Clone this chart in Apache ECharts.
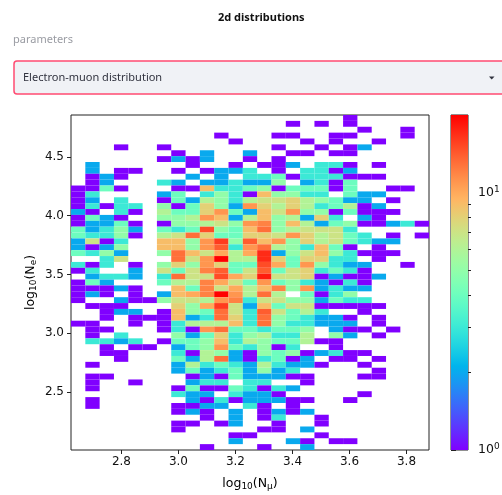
<!DOCTYPE html>
<html><head><meta charset="utf-8">
<style>html,body{margin:0;padding:0;background:#fff;overflow:hidden}#c{width:502px;height:495px}</style>
<script src="https://cdn.jsdelivr.net/npm/echarts@6/dist/echarts.min.js"></script>
</head><body><div id="c"></div>
<script>
const xRange = [2.623, 3.879];
const yRange = [2.006, 4.857];
const colCount = 25;
const rowCount = 57;
const xTicks = [2.8, 3.0, 3.2, 3.4, 3.6, 3.8];
const yTicks = [2.5, 3.0, 3.5, 4.0, 4.5];
const barMax = 20;
const barMajor = [1, 10];
const barMinor = [2, 3, 4, 5, 6, 7, 8, 9];
// counts per row, top row first: {column: count}
const counts = [
{19:1},
{15:1,17:1,19:1},
{20:1,23:1},
{10:1,14:1,15:1,18:1,19:1,23:1},
{11:1,16:1,18:1,21:1},
{3:1,6:1,14:1,17:1,19:1,20:2},
{7:1,9:2,12:2,15:1,16:1,18:1,19:1},
{6:1,7:2,8:1,9:2,12:1,14:1},
{1:2,8:1,11:1,13:1,14:1,15:2,17:3,18:3,19:1,21:1},
{1:2,3:1,4:1,7:1,9:1,10:2,11:2,12:3,14:1,16:3,17:3,18:1,19:2},
{1:1,2:2,3:1,8:2,10:2,12:3,13:3,14:4,15:1,16:3,17:3,18:3,19:1,20:1,21:1},
{1:1,2:2,6:3,7:2,9:2,10:2,11:3,12:2,13:2,14:5,16:2,17:3,18:1,19:4},
{0:1,1:1,2:4,3:1,7:1,8:1,9:9,10:3,11:3,12:4,13:5,14:1,15:4,16:4,17:4,18:1,19:4,22:1,23:1},
{0:1,1:3,6:2,7:4,9:3,10:5,11:3,12:1,13:9,14:5,15:5,16:3,17:3,19:4,20:2,21:2},
{0:1,1:2,3:3,6:1,7:4,8:2,9:6,10:5,11:3,12:6,13:7,14:7,15:8,16:6,17:5,18:4,19:2,20:2,22:1},
{0:1,1:3,2:1,3:3,4:3,6:5,7:1,8:4,9:8,10:5,11:2,12:11,13:8,14:6,15:8,16:6,17:3,18:4,19:6,20:1,21:2},
{0:2,1:1,3:3,4:1,6:6,7:4,8:4,9:8,10:11,11:4,12:2,13:9,14:7,15:11,16:5,17:5,18:1,19:4,20:1,21:1,22:1},
{0:1,1:4,2:2,3:1,6:5,7:5,8:6,9:11,10:9,11:2,12:6,13:9,14:5,15:6,16:2,17:8,18:3,20:2,21:1},
{0:1,1:2,2:2,3:4,4:1,6:1,7:5,8:5,9:6,10:7,11:5,12:11,13:12,14:5,15:9,16:6,17:2,18:4,19:5,20:1,21:1,22:2,23:3,24:1},
{0:4,1:2,2:3,3:5,4:2,6:4,7:3,8:4,9:15,10:5,11:4,12:9,13:13,14:5,15:6,16:7,17:7,18:7,19:3},
{0:4,1:3,2:3,3:5,4:1,6:6,7:7,8:13,9:8,10:4,11:4,12:8,13:8,14:7,15:11,16:8,17:6,18:7,19:4,20:3,22:1,24:1},
{0:2,1:7,2:1,3:3,6:9,7:9,8:5,9:11,10:16,11:5,12:14,13:9,14:11,15:5,16:8,17:6,18:7,19:4,20:3,21:2,22:2},
{0:2,1:1,2:2,3:5,6:9,7:9,8:5,9:11,10:14,11:3,12:11,13:13,14:6,15:5,16:3,17:9,18:4,19:1,21:1},
{0:4,1:3,2:5,3:2,6:5,7:13,8:9,9:7,10:10,11:6,12:10,13:17,14:2,15:5,16:7,17:9,18:5,19:3,20:1,21:1,22:1},
{2:3,3:7,7:13,8:7,9:11,10:20,11:6,12:6,13:17,14:8,15:4,16:8,17:8,18:3,19:3,21:1},
{0:3,1:1,2:3,4:1,6:5,7:8,8:5,9:11,10:8,11:4,12:4,13:15,14:10,15:4,16:11,17:5,18:3,19:2,20:2,23:1},
{0:1,1:3,4:2,6:7,7:4,8:7,9:12,10:14,11:4,12:7,13:14,14:4,15:7,16:8,17:3,18:4,19:3,20:1},
{1:2,2:3,3:3,4:2,6:3,7:13,8:7,9:7,10:15,11:10,12:8,13:18,14:7,15:7,16:8,17:1,18:2,19:1,20:1,21:2},
{0:1,1:4,2:2,6:4,7:6,8:6,9:12,10:10,11:7,12:4,13:11,14:4,15:5,16:3,17:2,18:1,19:3,20:1},
{0:1,1:1,2:1,3:2,4:1,7:9,8:4,9:12,10:7,11:10,12:6,13:9,14:12,15:5,16:11,17:2,18:3,19:2,20:2},
{0:1,1:2,2:1,4:1,6:2,7:9,8:10,9:12,10:20,11:11,12:6,13:13,14:6,16:4,17:1,18:3,19:5},
{0:1,3:2,4:1,5:1,6:5,7:7,8:7,9:6,10:11,11:12,12:3,13:7,14:7,15:5,16:5,17:2,18:4,19:3,20:3},
{1:1,2:1,3:1,7:8,8:5,9:10,10:16,11:7,12:2,13:9,14:4,15:7,16:7,17:1,18:1,19:1,20:1,21:1},
{2:1,3:2,4:2,6:1,7:9,8:5,9:4,10:13,11:7,12:3,13:14,14:7,15:4,16:6,17:3,20:1},
{2:1,4:1,5:1,6:1,7:9,8:2,9:3,10:13,11:8,12:3,13:13,14:5,15:4,16:3,17:2,18:2,19:1,21:1},
{0:1,1:1,4:1,6:1,7:3,8:6,9:6,10:6,11:9,12:3,13:13,14:5,15:3,16:3,17:2,18:2,19:2,21:1},
{1:1,2:1,6:1,7:3,8:1,9:11,10:13,11:4,12:4,13:3,14:4,15:4,16:5,18:2,19:1,20:1,22:1},
{1:1,3:3,7:5,8:2,9:4,10:8,11:3,12:5,13:6,14:3,15:3,16:6,18:5,19:2,21:1},
{1:3,2:3,3:2,4:3,6:1,7:4,8:4,9:5,10:9,11:3,12:6,13:5,14:4,15:4,16:6,17:1,18:1},
{2:1,4:1,5:1,7:2,8:4,9:5,10:11,11:4,12:3,13:5,14:1,15:3,18:1},
{2:1,3:1,7:3,8:1,9:6,10:5,11:2,12:1,13:5,14:4,15:5,16:1,17:2,18:3,19:1,20:1},
{3:1,7:4,8:2,9:6,10:13,11:2,12:1,13:3,14:4,15:1,16:2,18:1,19:1,21:1},
{1:1,7:2,8:6,9:3,10:4,11:3,12:2,13:6,14:3,15:2,16:2,17:1,20:1},
{7:2,8:4,9:2,10:3,11:4,12:2,13:5,14:2,15:3,21:1},
{1:1,2:1,8:1,9:2,10:1,11:4,12:2,13:2,14:2,15:1,16:1,20:1,21:1},
{1:1,4:1,8:2,9:3,10:3,12:3,13:3,16:1},
{1:1,7:1,8:4,9:1,10:1,11:4,12:3,13:1,14:3,15:2},
{7:3,8:2,9:2,11:3,12:2,13:2,14:1,20:1},
{1:1,8:2,9:1,10:3,11:1,12:2,13:2,14:2,15:1,16:1,19:1},
{1:1,7:1,8:1,9:2,10:2,12:3,13:1,15:1},
{7:1,8:2,9:1,11:2,13:1,14:2,15:1,16:2},
{9:1,11:2,13:1,14:3,17:1},
{7:1,8:1,10:1,11:2,14:1,17:1},
{7:1,13:1,14:1,16:2},
{11:1,12:1,17:1},
{11:2,15:2,16:1,18:1,19:1},
{9:1,13:1,16:2}
];

const textFont = '"Noto Sans", sans-serif';
const plotFont = '"DejaVu Sans", sans-serif';
const subRich = {s:{fontSize:9,fontFamily:plotFont,color:'#000',padding:[5,0,0,0]},n:{fontSize:12.5,fontFamily:plotFont,color:'#000'}};

// matplotlib "rainbow" colormap
function rainbow(t){
  const r=Math.min(1,Math.abs(2*t-0.5)),g=Math.sin(Math.PI*t),b=Math.cos(Math.PI*t/2);
  return 'rgb('+[r,g,b].map(v=>Math.round(255*Math.max(0,v))).join(',')+')';
}
const colorOf = v => rainbow(Math.log(v)/Math.log(barMax));

const binW=(xRange[1]-xRange[0])/colCount, binH=(yRange[1]-yRange[0])/rowCount;
const cellData=[];
counts.forEach((row,r)=>{
  Object.keys(row).forEach(k=>{
    const c=+k;
    cellData.push([xRange[0]+c*binW, yRange[1]-(r+1)*binH, xRange[0]+(c+1)*binW, yRange[1]-r*binH, row[k]]);
  });
});
const barLogMax=Math.log10(barMax);
const stops=[];for(let i=0;i<=32;i++)stops.push({offset:i/32,color:rainbow(1-i/32)});

const chart=echarts.init(document.getElementById('c'),null,{renderer:'canvas'});
chart.setOption({
  animation:false,
  backgroundColor:'#fff',
  graphic:[
    {type:'text',left:218,top:12,style:{text:'2d distributions',fontFamily:textFont,fontSize:11,fontWeight:'bold',fill:'#111'}},
    {type:'text',left:13,top:34,style:{text:'parameters',fontFamily:textFont,fontSize:11,fill:'#9a9ca3'}},
    {type:'rect',shape:{x:14,y:61,width:500,height:33,r:3},style:{fill:'#f0f2f6',stroke:'#ff4b72',lineWidth:1.5}},
    {type:'text',left:23,top:72,style:{text:'Electron-muon distribution',fontFamily:textFont,fontSize:11,fill:'#31333f'}},
    {type:'polygon',shape:{points:[[489,76.5],[494.5,76.5],[491.7,79.5]]},style:{fill:'#31333f'}}
  ],
  grid:[
    {left:71,top:115,width:358,height:335,outerBoundsMode:'none',show:true,borderColor:'#222',borderWidth:1,backgroundColor:'#fff'},
    {left:451,top:115,width:17,height:335,outerBoundsMode:'none',show:true,borderColor:'#222',borderWidth:1,backgroundColor:'transparent'}
  ],
  xAxis:[
    {type:'value',gridIndex:0,min:xRange[0],max:xRange[1],
     name:'{n|log}{s|10}{n|(N}{s|μ}{n|)}',nameLocation:'middle',nameGap:27,nameMoveOverlap:false,
     nameTextStyle:{rich:subRich},
     splitLine:{show:false},axisLine:{show:false},
     axisTick:{length:4,lineStyle:{color:'#222'},customValues:xTicks},
     axisLabel:{customValues:xTicks,margin:6,fontFamily:plotFont,fontSize:12,color:'#111',formatter:v=>v.toFixed(1)}},
    {type:'value',gridIndex:1,min:0,max:1,show:false}
  ],
  yAxis:[
    {type:'value',gridIndex:0,min:yRange[0],max:yRange[1],
     name:'{n|log}{s|10}{n|(N}{s|e}{n|)}',nameLocation:'middle',nameGap:33,nameMoveOverlap:false,
     nameTextStyle:{rich:subRich},
     splitLine:{show:false},axisLine:{show:false},
     axisTick:{length:4,lineStyle:{color:'#222'},customValues:yTicks},
     axisLabel:{customValues:yTicks,margin:7,fontFamily:plotFont,fontSize:12,color:'#111',formatter:v=>v.toFixed(1)}},
    {type:'value',gridIndex:1,position:'right',min:0,max:barLogMax,
     splitLine:{show:false},axisLine:{show:false},
     axisTick:{length:5,lineStyle:{color:'#222'},customValues:barMajor.map(Math.log10)},
     axisLabel:{customValues:barMajor.map(Math.log10),margin:10,color:'#111',
       formatter:v=>'{b|10}{e|'+Math.round(v)+'}',
       rich:{b:{fontSize:12.5,fontFamily:plotFont,color:'#111'},e:{fontSize:9,fontFamily:plotFont,color:'#111',padding:[0,0,6,0]}}}},
    {type:'value',gridIndex:1,position:'right',min:0,max:barLogMax,
     splitLine:{show:false},axisLine:{show:false},axisLabel:{show:false},
     axisTick:{length:3,lineStyle:{color:'#222'},customValues:barMinor.map(Math.log10)}}
  ],
  series:[
    {type:'custom',xAxisIndex:0,yAxisIndex:0,data:cellData,clip:true,
     encode:{x:[0,2],y:[1,3]},
     renderItem:(p,api)=>{
       const a=api.coord([api.value(0),api.value(3)]),b=api.coord([api.value(2),api.value(1)]);
       return {type:'rect',shape:{x:a[0],y:a[1],width:b[0]-a[0],height:b[1]-a[1]},
         style:{fill:colorOf(api.value(4))}};
     }},
    {type:'custom',xAxisIndex:1,yAxisIndex:1,data:[[0,0,1,barLogMax]],silent:true,
     renderItem:(p,api)=>{
       const a=api.coord([0,barLogMax]),b=api.coord([1,0]);
       return {type:'rect',shape:{x:a[0],y:a[1],width:b[0]-a[0],height:b[1]-a[1]},
         style:{fill:new echarts.graphic.LinearGradient(0,0,0,1,stops)}};
     }},
    {type:'custom',xAxisIndex:1,yAxisIndex:2,data:[],renderItem:()=>null}
  ]
});
</script></body></html>
